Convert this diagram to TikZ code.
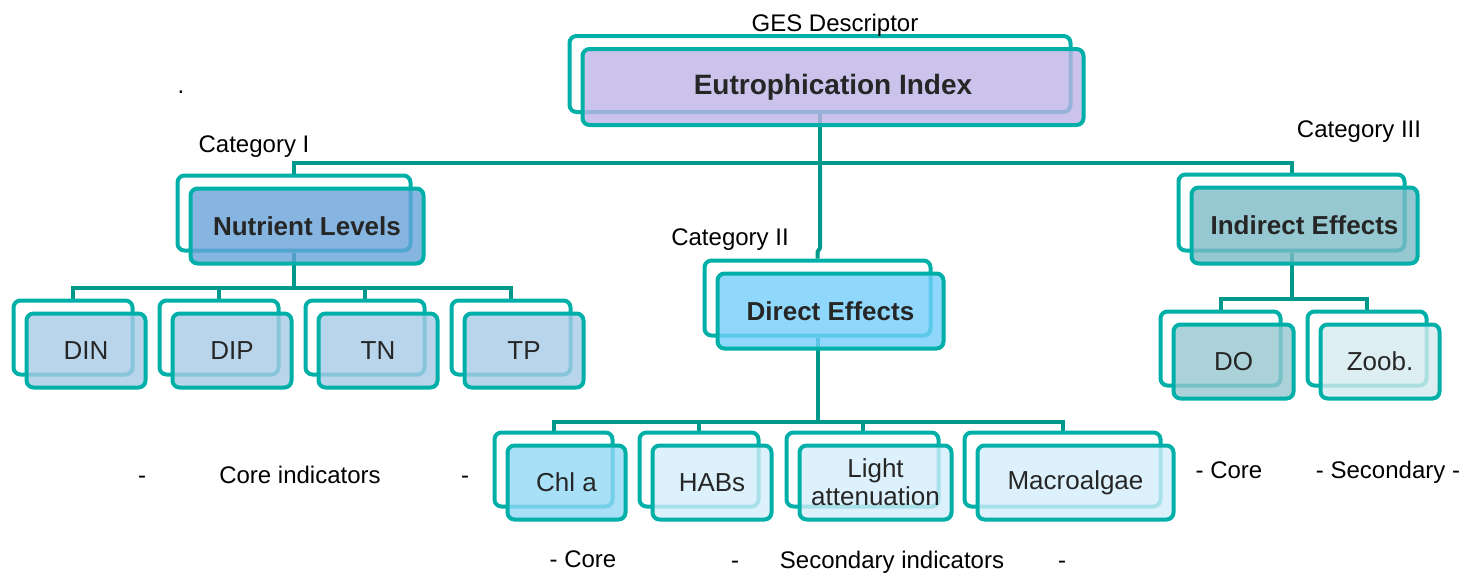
\documentclass[tikz,border=0pt]{standalone}
\usepackage{fontspec}
\setmainfont{Liberation Sans}
\usetikzlibrary{backgrounds}
\definecolor{boxline}{RGB}{0,176,168}
\definecolor{conncol}{RGB}{0,153,140}
\definecolor{txt}{RGB}{38,38,38}
\definecolor{fTop}{RGB}{190,180,230}
\definecolor{fNut}{RGB}{102,163,216}
\definecolor{fNutC}{RGB}{168,203,231}
\definecolor{fDir}{RGB}{115,206,251}
\definecolor{fChl}{RGB}{146,216,246}
\definecolor{fSec}{RGB}{211,238,251}
\definecolor{fInd}{RGB}{124,186,199}
\definecolor{fDO}{RGB}{149,199,206}
\definecolor{fZoo}{RGB}{213,234,239}
\newcommand{\twinbox}[8]{%
  \node[backbox, minimum width=#4pt, minimum height=#5pt] (#1-b) at (#2,#3) {};
  \node[frontbox, fill=#6, minimum width=#4pt, minimum height=#5pt, #7] (#1) at ({#2+13},{#3+13}) {#8};
}
\begin{document}
\begin{tikzpicture}[x=1pt,y=-1pt,
  backbox/.style={draw=boxline, line width=4pt, rounded corners=7pt, inner sep=0pt},
  frontbox/.style={draw=boxline, line width=4pt, rounded corners=7pt, inner sep=0pt,
     fill opacity=0.8, text opacity=1, text=txt, align=center,
     font=\fontsize{26}{29}\selectfont},
  boldlabel/.style={font=\fontsize{26}{30}\selectfont\bfseries},
  conn/.style={draw=conncol, line width=4pt},
  lbl/.style={font=\fontsize{24}{28}\selectfont, anchor=base, inner sep=0pt, text=black}]
\useasboundingbox (0,0) rectangle (1475,576);

% boxes
\twinbox{top}{820}{74}{501}{76}{fTop}{font=\fontsize{28}{32}\selectfont\bfseries}{Eutrophication Index}
\twinbox{nl}{294}{213}{233}{75}{fNut}{boldlabel}{Nutrient Levels}
\twinbox{de}{817.5}{298}{226}{75}{fDir}{boldlabel}{Direct Effects}
\twinbox{ie}{1291.5}{212.5}{226}{76}{fInd}{boldlabel}{Indirect Effects}

\twinbox{din}{73}{337.5}{119}{74}{fNutC}{}{DIN}
\twinbox{dip}{219}{337.5}{119}{74}{fNutC}{}{DIP}
\twinbox{tn}{365}{337.5}{119}{74}{fNutC}{}{TN}
\twinbox{tp}{511}{337.5}{119}{74}{fNutC}{}{TP}

\twinbox{chl}{553.5}{469.5}{118}{74}{fChl}{}{Chl a}
\twinbox{habs}{699}{469.5}{119}{74}{fSec}{}{HABs}
\twinbox{light}{862.5}{469.5}{152}{74}{fSec}{}{Light\\[-1pt]attenuation}
\twinbox{macro}{1062.5}{469.5}{196}{74}{fSec}{}{Macroalgae}

\twinbox{do}{1220.5}{348.5}{120}{74}{fDO}{}{DO}
\twinbox{zoob}{1367}{348.5}{119}{74}{fZoo}{}{Zoob.}

% connectors
\begin{scope}[on background layer]
  \coordinate (hub) at (820,163);
  \draw[conn] (top-b.south) -- (hub);
  \draw[conn] (nl-b.north) -- (nl-b.north |- hub) -- (hub -| ie-b.north) -- (ie-b.north);
  \draw[conn] (hub) -- (820,248) -- (817.5,252) -- (de-b.north);

  \coordinate (nlh) at (294,288);
  \draw[conn] (nl-b.south) -- (nlh);
  \draw[conn] (din-b.north) |- (nlh) -| (tp-b.north);
  \draw[conn] (dip-b.north) -- (dip-b.north |- nlh);
  \draw[conn] (tn-b.north) -- (tn-b.north |- nlh);

  \coordinate (deh) at (817.5,422);
  \draw[conn] (de-b.south) -- (deh);
  \draw[conn] (chl-b.north) |- (deh) -| (macro-b.north);
  \draw[conn] (habs-b.north) -- (habs-b.north |- deh);
  \draw[conn] (light-b.north) -- (light-b.north |- deh);

  \coordinate (ieh) at (1291.5,299);
  \draw[conn] (ie-b.south) -- (ieh);
  \draw[conn] (do-b.north) |- (ieh) -| (zoob-b.north);
\end{scope}

% labels
\node[lbl] (ges) at (835,31) {GES Descriptor};
\node[lbl] (dot) at (181,93) {.};
\node[lbl] (cat1) at (254,152) {Category I};
\node[lbl] (cat2) at (730,245) {Category II};
\node[lbl] (cat3) at (1359,137) {Category III};

\node[lbl] (d1) at (142,483) {-};
\node[lbl] (coreind) at (300,483) {Core indicators};
\node[lbl] (d2) at (465,483) {-};

\node[lbl] (core2) at (1229,478) {- Core};
\node[lbl] (sec2) at (1388,478) {- Secondary -};

\node[lbl] (core3) at (583,567) {- Core};
\node[lbl] (d3) at (735,568) {-};
\node[lbl] (secind) at (892,568) {Secondary indicators};
\node[lbl] (d4) at (1062,568) {-};
\end{tikzpicture}
\end{document}
